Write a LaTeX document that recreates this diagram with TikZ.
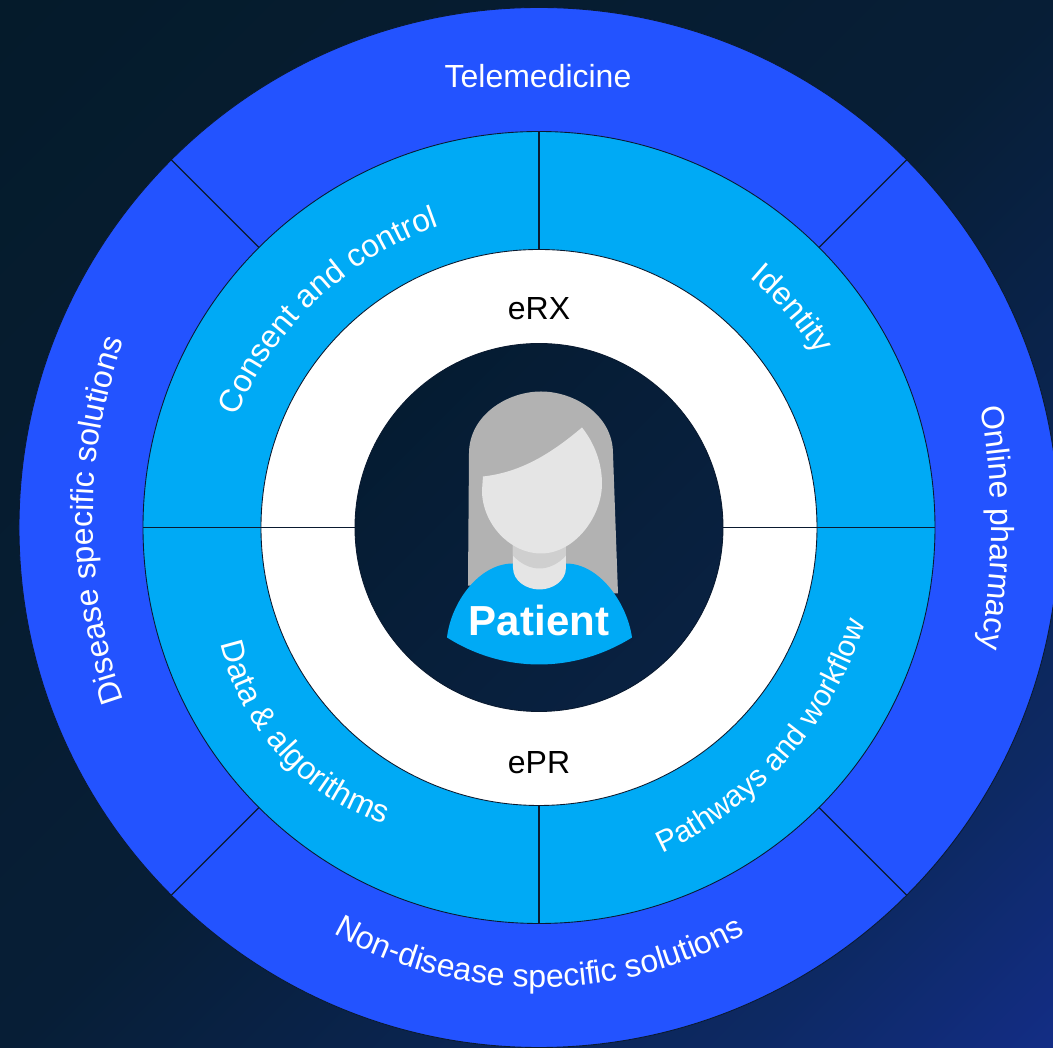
\documentclass[tikz,border=0pt]{standalone}
\usepackage{fontspec}
\setmainfont{Liberation Sans}
\usepackage{color}
\usetikzlibrary{decorations.text}

\definecolor{outerblue}{HTML}{2353FF}
\definecolor{midblue}{HTML}{00AAF5}
\definecolor{linedark}{HTML}{0A1A30}
\definecolor{hairgrey}{HTML}{B2B2B2}
\definecolor{skingrey}{HTML}{E5E5E5}
\definecolor{neckgrey}{HTML}{CFCFCF}
\definecolor{coredark}{HTML}{051C32}
\definecolor{corelight}{HTML}{092141}
\definecolor{bgcorner}{HTML}{132D85}
\definecolor{bgright}{HTML}{0D2963}
\definecolor{bgmid}{HTML}{071E36}
\definecolor{bgdark}{HTML}{051B2B}

\pgfdeclareverticalshading{bggrad}{100bp}{color(0bp)=(bgcorner); color(14.6bp)=(bgcorner); color(25bp)=(bgright); color(50bp)=(bgmid); color(85bp)=(bgdark); color(100bp)=(bgdark)}

\newcommand{\arcfont}{\fontsize{9.1}{10}\selectfont\color{white}}
\newcommand{\narrowfont}{\fontsize{8.6}{10}\selectfont\color{white}}

\tikzset{
  ring/.style={circle,draw=linedark,line width=0.25pt,inner sep=0pt,outer sep=0pt},
  divider/.style={draw=linedark,line width=0.33pt},
  arctext/.style={decorate,decoration={text along path,text align=center,text={|\arcfont|#1}}},
  arcnarrow/.style={decorate,decoration={text along path,text align=center,text={|\narrowfont|#1}}},
  ringtext/.style={font=\fontsize{9.1}{10}\selectfont,inner sep=0pt}
}

\begin{document}
\begin{tikzpicture}
      % background
      \clip (-5.39,-5.205) rectangle (5.14,5.275);
      \shade [shading=bggrad,shading angle=45] (-5.39,-5.205) rectangle (5.14,5.275);

      % rings
      \node [ring,fill=outerblue,minimum size=10.40cm] (outer) at (0,0) {};
      \node [ring,fill=midblue,minimum size=7.92cm] (mid) at (0,0) {};
      \node [ring,fill=white,minimum size=5.56cm] (inner) at (0,0) {};
      \node [ring,top color=coredark,bottom color=corelight,shading angle=45,minimum size=3.68cm] (core) at (0,0) {};

      % dividers
      \draw [divider] (outer.45) -- (mid.45);
      \draw [divider] (outer.135) -- (mid.135);
      \draw [divider] (outer.225) -- (mid.225);
      \draw [divider] (outer.315) -- (mid.315);
      \draw [divider] (mid.north) -- (inner.north);
      \draw [divider] (mid.south) -- (inner.south);
      \draw [divider] (mid.west) -- (core.west);
      \draw [divider] (mid.east) -- (core.east);

      % outer labels
      \node [ringtext,text=white,anchor=base] (tele) at (-0.01,4.40) {Telemedicine};
      \path [arctext=Online pharmacy] ([shift={(-2.20,0)}]25:6.72) arc (25:-25:6.72);
      \path [arctext=Disease specific solutions] ([shift={(0.88,0.07)}]205:5.34) arc (205:155:5.34);
      \path [arctext=Non-disease specific solutions] ([shift={(0,-0.39)}]225:4.21) arc (225:315:4.21);

      % middle labels
      \path [arctext=Consent and control] ([shift={(0.14,-0.22)}]173.3:3.43) arc (173.3:93.3:3.43);
      \path [arctext=Identity] (80.8:3.27) arc (80.8:0.8:3.27);
      \path [arcnarrow=Pathways and workflow] ([shift={(-0.35,0.19)}]-81.5:3.79) arc (-81.5:-1.5:3.79);
      \path [arctext=Data {\&} algorithms] ([shift={(-0.79,-0.63)}]167.3:2.45) arc (167.3:277.3:2.45);

      % inner labels
      \node [ringtext,text=black] (erx) at (0,2.19) {eRX};
      \node [ringtext,text=black] (epr) at (0,-2.35) {ePR};

      % hair
      \fill [color=hairgrey] (-0.71,-0.58) -- (-0.70,0.74) .. controls (-0.70,1.12) and (-0.32,1.36) .. (0.02,1.36) .. controls (0.36,1.36) and (0.74,1.12) .. (0.74,0.74) -- (0.79,-0.66) -- cycle;

      % shirt
      \fill [color=midblue] (-0.92,-1.10) .. controls (-0.88,-0.75) and (-0.60,-0.36) .. (-0.26,-0.36) -- (0.27,-0.36) .. controls (0.60,-0.36) and (0.88,-0.75) .. (0.93,-1.10) .. controls (0.35,-1.46) and (-0.35,-1.46) .. cycle;

      % neck
      \fill [color=skingrey] (-0.26,-0.13) -- (-0.26,-0.40) .. controls (-0.26,-0.54) and (-0.12,-0.62) .. (0.005,-0.62) .. controls (0.13,-0.62) and (0.27,-0.54) .. (0.27,-0.40) -- (0.27,-0.13) -- cycle;
      \fill [color=neckgrey] (-0.26,-0.13) -- (-0.26,-0.28) .. controls (-0.18,-0.37) and (-0.08,-0.41) .. (0.005,-0.41) .. controls (0.09,-0.41) and (0.19,-0.37) .. (0.27,-0.28) -- (0.27,-0.13) -- cycle;

      % face
      \fill [color=skingrey] (-0.56,0.51) .. controls (-0.20,0.55) and (0.10,0.72) .. (0.43,1.00) .. controls (0.55,0.85) and (0.63,0.65) .. (0.63,0.44) .. controls (0.63,0.10) and (0.35,-0.26) .. (0.02,-0.26) .. controls (-0.30,-0.26) and (-0.57,0.05) .. (-0.57,0.37) -- cycle;

      % patient label
      \node [font=\fontsize{11.95}{14}\selectfont\bfseries,text=white,inner sep=0pt] (patient) at (0,-0.93) {Patient};
\end{tikzpicture}
\end{document}
